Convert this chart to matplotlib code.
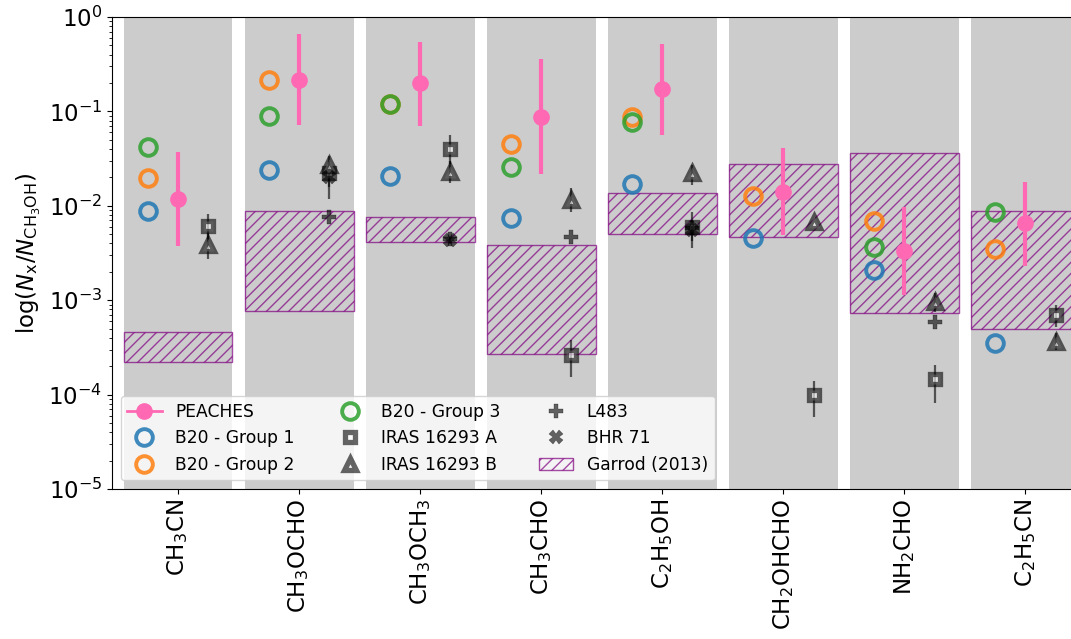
import numpy as np
import matplotlib
matplotlib.use("Agg")
import matplotlib.pyplot as plt
from matplotlib.lines import Line2D
from matplotlib.patches import Patch

molecules = [r"CH$_3$CN", r"CH$_3$OCHO", r"CH$_3$OCH$_3$", r"CH$_3$CHO",
             r"C$_2$H$_5$OH", r"CH$_2$OHCHO", r"NH$_2$CHO", r"C$_2$H$_5$CN"]

peaches = [0.0119, 0.217, 0.198, 0.0879, 0.171, 0.0139, 0.00335, 0.00652]
peaches_lo = [0.00378, 0.072, 0.0706, 0.0217, 0.056, 0.0049, 0.00113, 0.00232]
peaches_hi = [0.0374, 0.655, 0.548, 0.356, 0.514, 0.0413, 0.0098, 0.018]

b20_g1 = [0.00887, 0.0239, 0.0208, 0.00737, 0.017, 0.00453, 0.00209, 3.55e-4]
b20_g2 = [0.0199, 0.217, 0.119, 0.0452, 0.088, 0.0128, 0.00696, 0.00346]
b20_g3 = [0.0417, 0.090, 0.119, 0.026, 0.0778, np.nan, 0.00369, 0.00866]

iras_a = [0.0061, 0.022, 0.0397, 2.6e-4, 0.0060, 1.0e-4, 1.46e-4, 6.97e-4]
iras_a_lo = [0.0045, 0.016, 0.028, 1.52e-4, 0.00355, 5.75e-5, 8.2e-5, 5.2e-4]
iras_a_hi = [0.0081, 0.030, 0.056, 3.8e-4, 0.0087, 1.4e-4, 2.06e-4, 8.9e-4]

iras_b = [0.0038, 0.027, 0.023, 0.0115, 0.0221, 0.0068, 9.6e-4, 3.58e-4]
iras_b_lo = [0.0027, 0.019, 0.0175, 0.0087, 0.0166, 0.0068, 7.5e-4, 3.0e-4]
iras_b_hi = [0.0052, 0.034, 0.030, 0.0155, 0.027, 0.0068, 0.0012, 4.5e-4]

l483 = [np.nan, 0.0077, 0.0045, 0.00464, 0.0058, np.nan, 5.9e-4, np.nan]
bhr71 = [np.nan, 0.020, 0.0043, np.nan, 0.0055, np.nan, np.nan, np.nan]
bhr71_lo = [np.nan, 0.0118, 0.0040, np.nan, 0.0042, np.nan, np.nan, np.nan]
bhr71_hi = [np.nan, 0.026, 0.0047, np.nan, 0.0070, np.nan, np.nan, np.nan]

garrod_lo = [2.2e-4, 7.7e-4, 0.0041, 2.7e-4, 0.00503, 0.00471, 7.26e-4, 4.9e-4]
garrod_hi = [4.6e-4, 0.00875, 0.00767, 0.00381, 0.01356, 0.0275, 0.0365, 0.00887]

W, H = 1071, 639
fig = plt.figure(figsize=(W / 100, H / 100), dpi=100)
ax = fig.add_axes([112 / W, (H - 489) / H, (1076 - 112) / W, (489 - 17) / H])

x = np.arange(len(molecules))
ax.set_yscale("log")
ax.set_ylim(1e-5, 1)
ax.set_xlim(-0.545, -0.545 + (1076 - 112) / 121.06)

for xi in x:
    ax.axvspan(xi - 0.45, xi + 0.45, color="#cccccc", zorder=0, lw=0)

gl = np.array(garrod_lo)
gh = np.array(garrod_hi)
ax.bar(x, gh - gl, bottom=gl, width=0.9, fill=False, hatch="///",
       edgecolor="purple", alpha=0.7, lw=1.0, zorder=1)

dark = dict(color="k", alpha=0.6, ls="none", elinewidth=1.6, capsize=0, zorder=3)

def err(v, lo, hi):
    v = np.array(v); lo = np.array(lo); hi = np.array(hi)
    return np.vstack([v - lo, hi - v])

sq = dict(marker="s", ms=7.5, mfc="white", mew=3.8)
tri = dict(marker="^", ms=9, mfc="white", mew=3.8)
plus = dict(marker="P", ms=10, mew=0.3)
cross = dict(marker="X", ms=10, mew=0.3)

ax.errorbar(x + 0.25, iras_a, yerr=err(iras_a, iras_a_lo, iras_a_hi), **sq, **dark)
ax.errorbar(x + 0.25, iras_b, yerr=err(iras_b, iras_b_lo, iras_b_hi), **tri, **dark)
ax.errorbar(x + 0.25, l483, **plus, **dark)
ax.errorbar(x + 0.25, bhr71, yerr=err(bhr71, bhr71_lo, bhr71_hi), **cross, **dark)

circ = dict(ls="none", ms=12, mfc="none", mew=2.8, alpha=0.85, zorder=4)
ax.plot(x - 0.25, b20_g1, marker="o", mec="tab:blue", **circ)
ax.plot(x - 0.25, b20_g2, marker="o", mec="tab:orange", **circ)
ax.plot(x - 0.25, b20_g3, marker="o", mec="tab:green", **circ)

pink = "#ff69b4"
ax.errorbar(x, peaches, yerr=err(peaches, peaches_lo, peaches_hi), marker="o",
            ms=11, color=pink, elinewidth=3, ls="none", capsize=0, zorder=5)

ax.set_xticks(x)
ax.set_xticklabels(molecules, rotation=90, fontsize=16.5)
ax.tick_params(axis="y", labelsize=16.5)
ax.set_ylabel(r"log($N_{\rm x}/N_{\rm CH_3OH}$)", fontsize=16.5)

dk = dict(color="k", alpha=0.6, ls="none")
handles = [
    Line2D([], [], color=pink, lw=2, marker="o", ms=11),
    Line2D([], [], marker="o", mec="tab:blue", **circ),
    Line2D([], [], marker="o", mec="tab:orange", **circ),
    Line2D([], [], marker="o", mec="tab:green", **circ),
    Line2D([], [], **sq, **dk),
    Line2D([], [], **tri, **dk),
    Line2D([], [], **plus, **dk),
    Line2D([], [], **cross, **dk),
    Patch(fill=False, hatch="///", edgecolor="purple", alpha=0.7, lw=1.0),
]
labels = ["PEACHES", "B20 - Group 1", "B20 - Group 2", "B20 - Group 3",
          "IRAS 16293 A", "IRAS 16293 B", "L483", "BHR 71", "Garrod (2013)"]
ax.legend(handles, labels, ncol=3, loc="lower left", fontsize=12.3,
          columnspacing=2.25)

fig.savefig("out.png", dpi=100)
